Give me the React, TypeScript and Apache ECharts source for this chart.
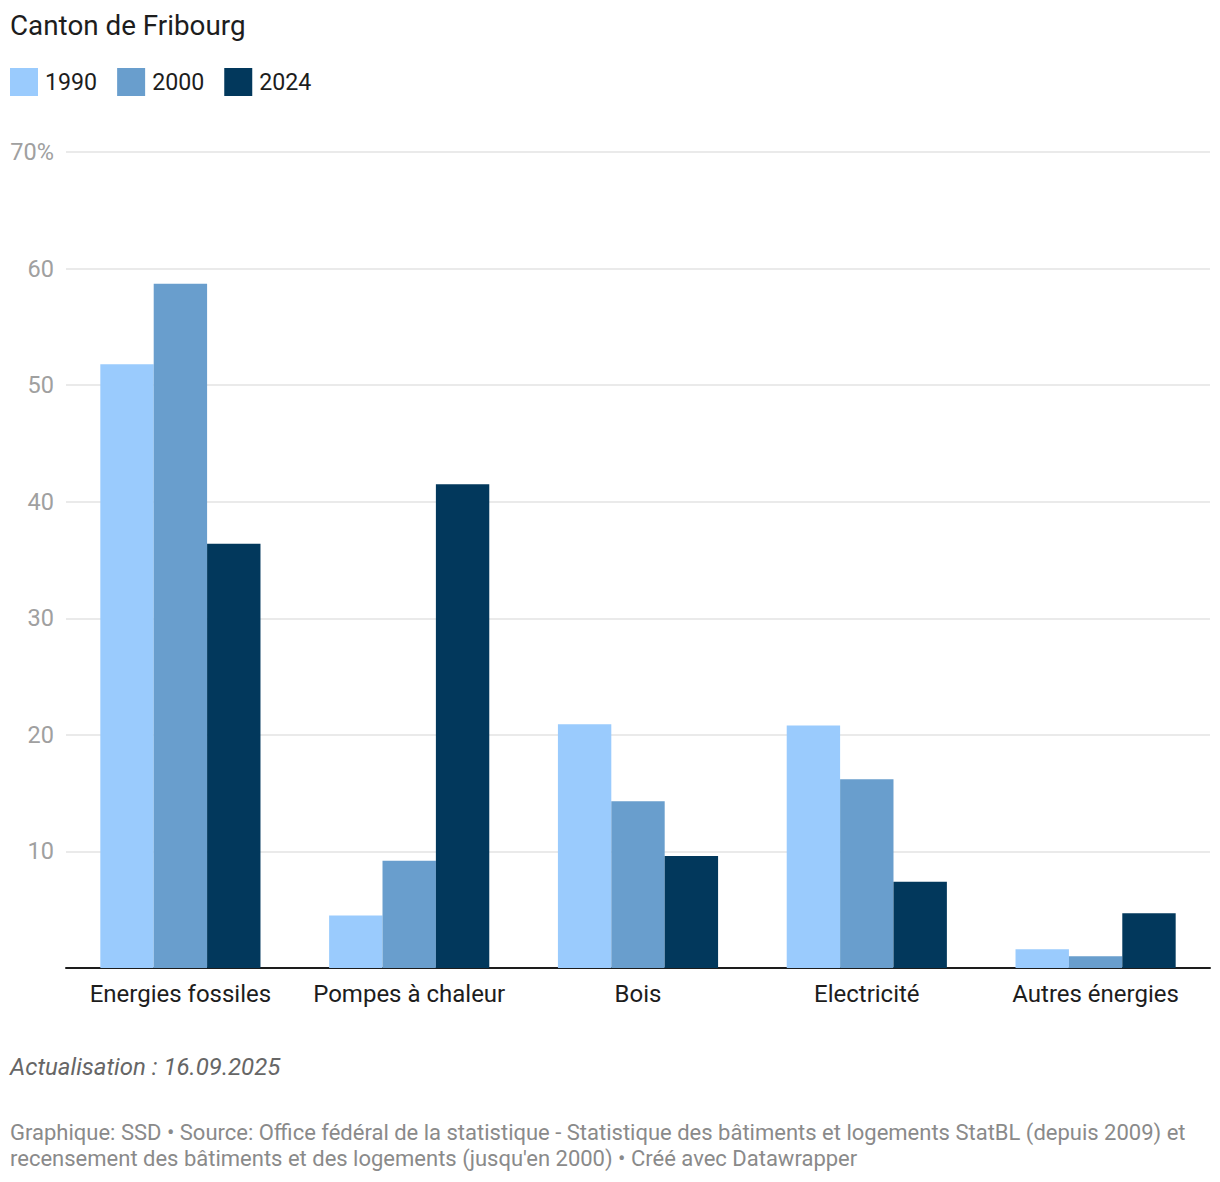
import React, { useEffect, useRef } from "react";
import * as echarts from "echarts";

const categories = ["Energies fossiles", "Pompes à chaleur", "Bois", "Electricité", "Autres énergies"];
const seriesNames = ["1990", "2000", "2024"];
const values1990 = [51.8, 4.5, 20.9, 20.8, 1.6];
const values2000 = [58.7, 9.2, 14.3, 16.2, 1.0];
const values2024 = [36.4, 41.5, 9.6, 7.4, 4.7];
const colors = ["#9ACBFD", "#699ECD", "#02385C"];

const titleText = "Canton de Fribourg";
const updateText = "Actualisation : 16.09.2025";
const sourceLine1 = "Graphique: SSD • Source: Office fédéral de la statistique - Statistique des bâtiments et logements StatBL (depuis 2009) et";
const sourceLine2 = "recensement des bâtiments et des logements (jusqu'en 2000) • Créé avec Datawrapper";

const FONT = "Roboto, 'Noto Sans', sans-serif";

export default function App() {
  const ref = useRef<HTMLDivElement>(null);
  useEffect(() => {
    document.body.style.margin = "0";
    if (!ref.current) return;
    const chart = echarts.init(ref.current, null, { renderer: "svg" });
    const allValues = [values1990, values2000, values2024];
    chart.setOption({
      animation: false,
      backgroundColor: "#ffffff",
      textStyle: { fontFamily: FONT },
      title: {
        text: titleText,
        left: 10,
        top: 11,
        padding: 0,
        textStyle: { fontFamily: FONT, fontSize: 27.8, fontWeight: "normal", color: "#1d1d1d" },
      },
      legend: {
        left: 10,
        top: 68,
        padding: 0,
        itemWidth: 28,
        itemHeight: 28,
        itemGap: 20,
        icon: "rect",
        data: seriesNames,
        textStyle: { fontFamily: FONT, fontSize: 23.2, color: "#1d1d1d", padding: [0, 0, 0, 2] },
      },
      grid: { left: 66, right: 10, top: 152, bottom: 214, containLabel: false },
      xAxis: {
        type: "category",
        data: categories,
        axisLine: { show: true, lineStyle: { color: "#1d1d1d", width: 2 } },
        axisTick: { show: false },
        axisLabel: { fontFamily: FONT, fontSize: 24, color: "#1d1d1d", margin: 14, interval: 0 },
      },
      yAxis: {
        type: "value",
        min: 0,
        max: 70,
        interval: 10,
        axisLine: { show: false },
        axisTick: { show: false },
        splitLine: { show: true, lineStyle: { color: "#e3e3e3", width: 1.5 } },
        axisLabel: {
          fontFamily: FONT,
          fontSize: 23.5,
          color: "#a0a0a0",
          margin: 12,
          formatter: (v: number) => (v === 0 ? "" : v === 70 ? "70%" : String(v)),
        },
      },
      series: seriesNames.map((name, i) => ({
        name,
        type: "bar",
        data: allValues[i],
        barGap: "0%",
        barCategoryGap: "30%",
        itemStyle: { color: colors[i] },
      })),
      graphic: [
        {
          type: "text",
          left: 10,
          top: 1055,
          style: { text: updateText, font: `italic 24px ${FONT}`, fill: "#666666" },
        },
        {
          type: "text",
          left: 10,
          top: 1121,
          style: { text: sourceLine1, font: `22px ${FONT}`, fill: "#8a8a8a" },
        },
        {
          type: "text",
          left: 10,
          top: 1147,
          style: { text: sourceLine2, font: `22px ${FONT}`, fill: "#8a8a8a" },
        },
      ],
    });
    return () => chart.dispose();
  }, []);
  return <div ref={ref} style={{ width: 1220, height: 1182 }} />;
}
